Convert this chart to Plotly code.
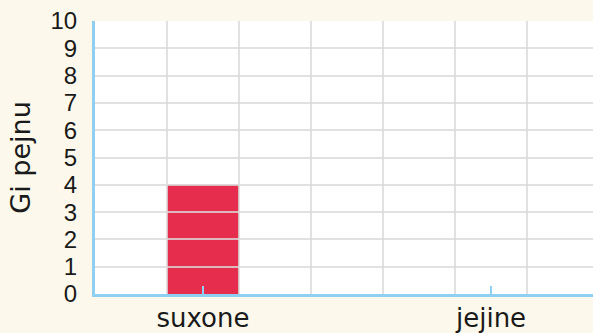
import plotly.graph_objects as go

# Chart data
categories = ["suxone", "jejine"]
values = [4, 0]
y_ticks = list(range(0, 11))

BLUE = "#8FD0F2"
GRID = "rgba(218,218,218,0.8)"
BAR = "#E62D4D"
TEXT = "#1A1A1A"
LABEL_FONT = "DejaVu Sans, sans-serif"
NUM_FONT = "Liberation Sans, Arial, sans-serif"
X_RANGE = [-0.375, 1.354]

fig = go.Figure()

# Bars on the category subplot
fig.add_trace(go.Bar(
    x=categories, y=values, width=0.25,
    marker=dict(color=BAR, line_width=0),
    xaxis="x", yaxis="y", hoverinfo="skip", showlegend=False,
))

# Grid subplot drawn on top of the bars (same domain, its own layer group)
fig.add_trace(go.Scatter(
    x=[None], y=[None], xaxis="x2", yaxis="y2",
    mode="markers", showlegend=False, hoverinfo="skip",
))

fig.update_layout(
    width=593, height=333,
    margin=dict(l=95, r=0, t=21, b=39),
    paper_bgcolor="#FCF9EC",
    plot_bgcolor="rgba(0,0,0,0)",
    font=dict(family=LABEL_FONT, color=TEXT, size=22),
    # white plotting area, kept underneath the bars
    shapes=[dict(
        type="rect", xref="x domain", yref="y domain",
        x0=0, x1=1, y0=0, y1=1, layer="below",
        fillcolor="#FFFFFF", line_width=0,
    )],
    xaxis=dict(
        type="category", categoryorder="array", categoryarray=categories,
        range=X_RANGE, domain=[0, 1], anchor="y",
        showgrid=False, showline=False, zeroline=False,
        ticks="inside", ticklen=8, tickwidth=2, tickcolor=BLUE,
        ticklabelstandoff=6,
        tickfont=dict(size=26, color=TEXT, family=LABEL_FONT),
    ),
    # companion axis: the short part of each category tick below the line
    xaxis3=dict(
        type="category", categoryorder="array", categoryarray=categories,
        range=X_RANGE, overlaying="x", anchor="y", side="bottom",
        showgrid=False, showline=False, zeroline=False,
        ticks="outside", ticklen=4, tickwidth=2, tickcolor=BLUE,
        showticklabels=False,
    ),
    yaxis=dict(
        range=[0, 10], domain=[0, 1], anchor="x", visible=False,
    ),
    xaxis2=dict(
        range=[0, 498 / 72], domain=[0, 1], anchor="y2",
        tick0=0, dtick=1, showgrid=True, gridcolor=GRID, gridwidth=2,
        showline=True, linecolor=BLUE, linewidth=3,
        showticklabels=False, ticks="", zeroline=False,
    ),
    yaxis2=dict(
        range=[0, 10], domain=[0, 1], anchor="x2",
        tickvals=y_ticks, ticktext=[str(v) for v in y_ticks],
        showgrid=True, gridcolor=GRID, gridwidth=2,
        showline=True, linecolor=BLUE, linewidth=3,
        ticks="", zeroline=False, ticklabelstandoff=10,
        tickfont=dict(size=24, color=TEXT, family=NUM_FONT),
        title=dict(text="Gi pejnu", font=dict(size=27, color=TEXT, family=LABEL_FONT), standoff=13),
    ),
)

fig.write_html("out.html")
